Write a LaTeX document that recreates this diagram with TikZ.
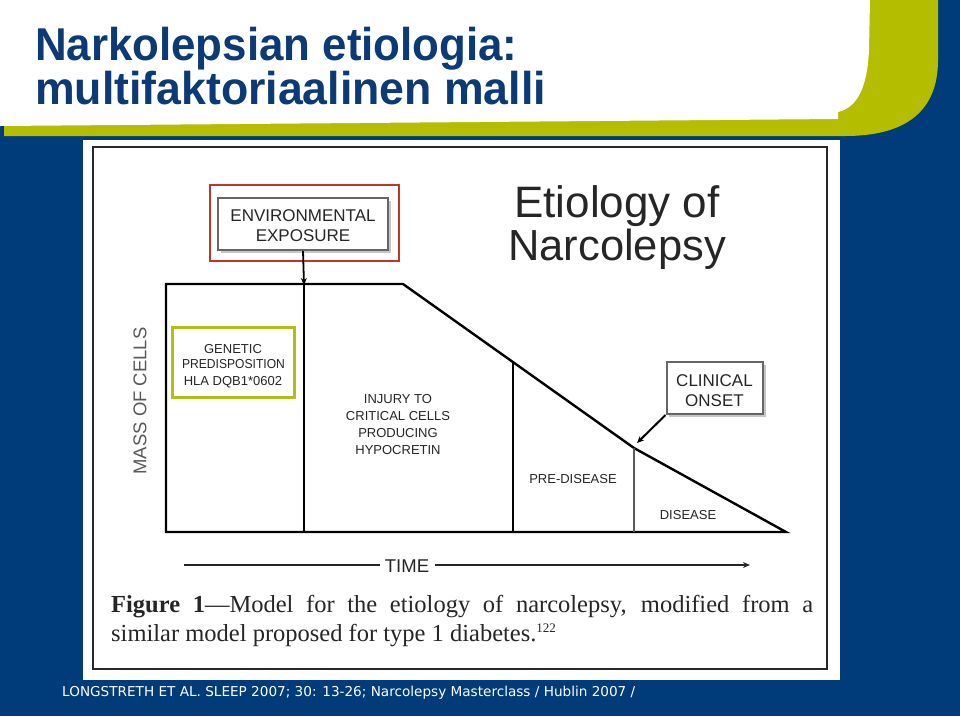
\documentclass[tikz,border=0pt]{standalone}
\usepackage{fontspec}
\setmainfont{Liberation Sans}
\newfontfamily\capfont{Liberation Serif}
\newfontfamily\footfont{DejaVu Sans}
\usetikzlibrary{arrows.meta}
\definecolor{slideblue}{RGB}{0,59,122}
\definecolor{titleblue}{RGB}{12,58,118}
\definecolor{slidegreen}{RGB}{180,189,0}
\definecolor{boxred}{RGB}{196,52,36}
\definecolor{boxgreen}{RGB}{178,190,20}
\definecolor{inkgray}{RGB}{38,38,38}
\definecolor{framegray}{RGB}{40,40,40}
\begin{document}
\begin{tikzpicture}[x=1pt,y=-1pt,
  lbl/.style={inner sep=0pt, anchor=base, text=inkgray, font=\fontsize{13}{15}\selectfont},
  bigl/.style={inner sep=0pt, anchor=base, text=inkgray, font=\fontsize{17}{20}\selectfont},
  graybox/.style={draw=gray!80!black, line width=2pt, fill=white, inner sep=0pt},
  outline/.style={line width=2.4pt, black},
  tip/.style={-{Stealth[length=7pt,width=6pt]}},
  titletext/.style={anchor=base west, inner sep=0pt, text=titleblue, font=\bfseries\fontsize{46}{50}\selectfont}
]
\useasboundingbox (0,0) rectangle (960,716);
% background
\fill[slideblue] (0,0) rectangle (960,716);
\fill[slidegreen] (4,0) -- (938,0) -- (938,60) .. controls (938,112) and (905,136) .. (845,136) -- (4,136) -- cycle;
\fill[white] (0,0) -- (870,0) -- (869,50) .. controls (867,92) and (855,108) .. (838,112) -- (838,119) -- (0,126) -- cycle;
% title
\node[titletext] (t1) at (35,60) {\scalebox{0.953}[1]{Narkolepsian etiologia:}};
\node[titletext] (t2) at (35,104) {\scalebox{0.97}[1]{multifaktoriaalinen malli}};
% figure panel
\fill[white] (83,140) rectangle (840,680);
\draw[framegray, line width=2pt] (93,147) rectangle (827,669);
% header of figure
\node[inner sep=0pt, anchor=base, text=black!85, font=\fontsize{44}{48}\selectfont] (et1) at (617,217) {Etiology of};
\node[inner sep=0pt, anchor=base, text=black!85, font=\fontsize{43.5}{48}\selectfont] (et2) at (617,260) {Narcolepsy};
% environmental box
\node[draw=boxred, line width=2.5pt, minimum width=189pt, minimum height=76pt, inner sep=0pt] (red) at (304.5,223) {};
\draw[gray!45, line width=2pt] (221,252) -- (390,252) -- (390,201);
\node[graybox, minimum width=170pt, minimum height=52pt] (env) at (303,224) {};
\node[bigl] (env1) at (303,221) {ENVIRONMENTAL};
\node[bigl] (env2) at (303,241) {EXPOSURE};
% main outline
\coordinate (tl) at (166,284);
\coordinate (bl) at (166,532);
\coordinate (c1) at (304,284);
\coordinate (c1b) at (304,532);
\coordinate (d0) at (403,284);
\coordinate (d1) at (513,362);
\coordinate (d1b) at (513,532);
\coordinate (d2) at (634,448);
\coordinate (d2b) at (634,532);
\coordinate (br) at (786,532);
\draw[outline, line join=miter] (bl) -- (tl) -- (d0) -- (d2) -- (br) -- cycle;
\draw[outline] (c1) -- (c1b);
\draw[outline] (d1) -- (d1b);
\draw[line width=2.6pt, gray!70!black] (d2) -- (d2b);
\draw[tip, line width=1.8pt] (env.south) -- ([yshift=-1pt]c1);
% mass of cells
\node[inner sep=0pt, rotate=90, text=gray!70!black, font=\fontsize{18.5}{20}\selectfont] (mass) at (140,401) {MASS OF CELLS};
% genetic box
\node[draw=boxgreen, line width=3pt, minimum width=122pt, minimum height=70pt, inner sep=0pt] (gen) at (233,362) {};
\node[lbl] (g1) at (233,353) {GENETIC};
\node[lbl] (g2) at (233.5,368) {\scalebox{0.93}[1]{PREDISPOSITION}};
\node[lbl] (g3) at (233,385) {HLA DQB1*0602};
% injury text
\node[lbl] (i1) at (398,403) {INJURY TO};
\node[lbl] (i2) at (398,420) {CRITICAL CELLS};
\node[lbl] (i3) at (398,437) {PRODUCING};
\node[lbl] (i4) at (398,454) {HYPOCRETIN};
% stage labels
\node[lbl] (pre) at (573,483) {PRE-DISEASE};
\node[lbl] (dis) at (688,519) {DISEASE};
% clinical onset
\draw[gray!45, line width=2pt] (669,416) -- (765,416) -- (765,365);
\node[graybox, minimum width=96pt, minimum height=52pt] (onset) at (714.5,388) {};
\node[bigl] (o1) at (714.5,386) {CLINICAL};
\node[bigl] (o2) at (714.5,406) {ONSET};
\coordinate (onsetpt) at (637,443);
\draw[tip, line width=2pt] (onset.south west) -- (onsetpt);
% time axis
\node[inner sep=0pt, anchor=base, text=inkgray, font=\fontsize{18.5}{20}\selectfont] (time) at (407,572) {TIME};
\coordinate (tstart) at (184,565);
\coordinate (tend) at (750,565);
\draw[line width=1.6pt, black!85] (tstart) -- ([xshift=-5pt]time.west |- tstart);
\draw[line width=1.6pt, black!85, tip] ([xshift=6pt]time.east |- tstart) -- (tend);
% caption
\node[anchor=base west, inner sep=0pt, text=black!85, font=\capfont\fontsize{24.5}{28}\selectfont] (cap1) at (111,612) {\makebox[702pt][s]{\textbf{Figure 1}—Model for the etiology of narcolepsy, modified from a}};
\node[anchor=base west, inner sep=0pt, text=black!85, font=\capfont\fontsize{24.5}{28}\selectfont] (cap2) at (111,641) {similar model proposed for type 1 diabetes.\raisebox{9pt}{\fontsize{13}{13}\selectfont 122}};
% footer
\node[anchor=base west, inner sep=0pt, text=white, font=\footfont\fontsize{13.6}{16}\selectfont] (foot) at (62,696) {LONGSTRETH ET AL. SLEEP 2007; 30: 13-26; Narcolepsy Masterclass / Hublin 2007 /};
\end{tikzpicture}
\end{document}
